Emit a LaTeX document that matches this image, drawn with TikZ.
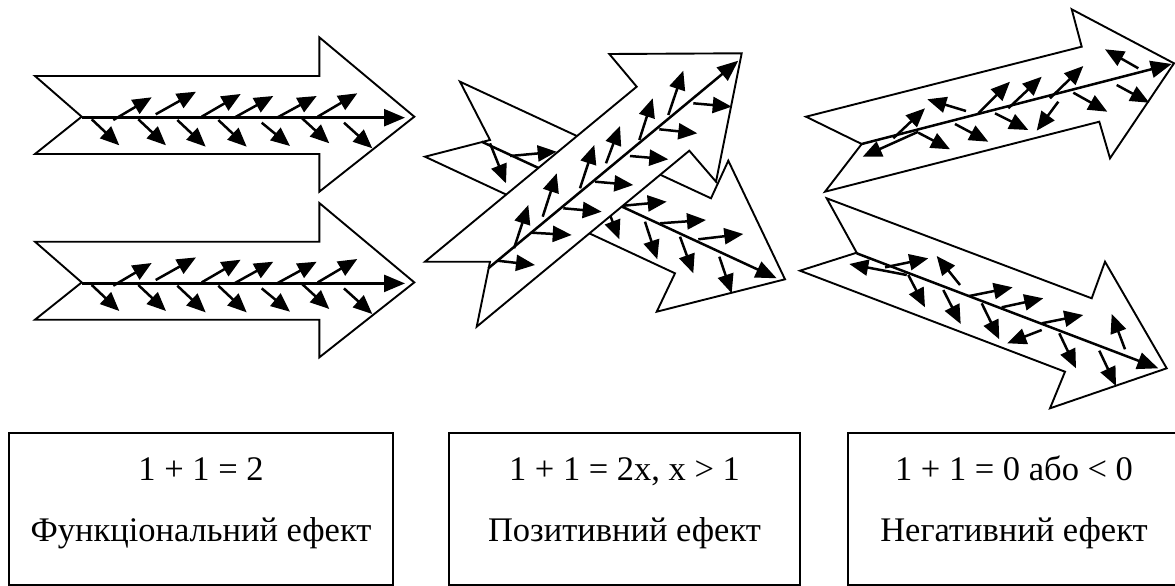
\documentclass[tikz,border=0pt]{standalone}
\usepackage{fontspec}
\setmainfont{Liberation Serif}
\usetikzlibrary{arrows.meta}
\begin{document}
\begin{tikzpicture}[x=1pt,y=-1pt,
  bigarrow/.style={draw=black,fill=white,line width=1.9pt,line join=miter},
  axisarrow/.style={line width=2.5pt,-{Triangle[length=21pt,width=17pt]}},
  small/.style={line width=2.5pt,-{Triangle[length=19pt,width=16pt]}},
  textbox/.style={draw=black,line width=1.6pt,inner sep=0pt,outer sep=0pt},
  lbl/.style={font=\fontsize{34.5}{42}\selectfont,anchor=base,inner sep=0pt}]
\useasboundingbox (0,0) rectangle (1175,586);

% ---------- left: two parallel arrows ----------
\foreach \dy in {0,165.7} {
\begin{scope}[shift={(0,\dy)}]
  \draw[bigarrow] (35,76) -- (81.7,116.7) -- (35,154) -- (319.3,154) -- (319.3,191.7)
     -- (414.3,116.7) -- (319.3,37.3) -- (319.3,76) -- cycle;
  \draw[axisarrow] (81.7,117.7) -- (405,117.7);
  \foreach \a/\b/\c/\d in {113.3/120/151.7/97.3, 155.7/114.3/196/91.7, 201.7/116.7/240.7/94,
      234.3/117.7/273.3/96, 277.7/117.3/316.7/96, 317.7/116.7/357.3/93.3,
      91.7/119.3/119.3/145.3, 138.3/119.3/166/145.3, 177.3/120/205.7/146.7,
      218.3/120/246.7/146.7, 261.7/122.7/290/146, 301/117.3/329.3/143.3, 344/122.7/372.3/148.3}
    \draw[small] (\a,\b) -- (\c,\d);
\end{scope}}

% ---------- middle: arrow B (behind) ----------
\draw[bigarrow] (460,81.7) -- (490,140) -- (425,156.7) -- (675,273.3) -- (656.7,311.7)
   -- (785,279.3) -- (728.3,160.7) -- (711,198.3) -- cycle;
\draw[axisarrow] (481.7,141.7) -- (776.7,278.3);
\foreach \a/\b/\c/\d in {510/156/556.7/151.7, 623.3/205.7/666.7/201.7, 660/223.3/706/220,
    698.3/239.3/743.3/234, 490/143.3/506/183.3, 604.3/200/619.3/239.3, 645/221.7/657.3/259.3,
    680/236.7/693.3/273.3, 719.3/256.7/731.7/293.3}
  \draw[small] (\a,\b) -- (\c,\d);

% ---------- middle: arrow A (front) ----------
\draw[bigarrow] (425,261.7) -- (490,261.7) -- (476.7,326.7) -- (689.3,150.7) -- (716,181.7)
   -- (741.7,53.3) -- (609.3,54) -- (636.7,86.7) -- cycle;
\draw[axisarrow] (488.3,268.3) -- (738.3,60.7);
\foreach \a/\b/\c/\d in {514/248.3/528.3/205, 542.7/216.7/556.7/173.3, 580/188.3/594.3/145,
    606/163.3/620/126, 639.3/140/652.7/98.3, 668.3/115/683.3/70.7,
    497.3/260.7/535/265, 531.7/232.7/571.7/235, 563.3/208.3/601.7/211.7, 595/181.7/633.3/185,
    630/156/668.3/159.3, 659.3/129.3/697.3/133.3, 693.3/103.3/731.7/106.7}
  \draw[small] (\a,\b) -- (\c,\d);

% ---------- right: arrow D (upper) ----------
\draw[bigarrow] (806,116.7) -- (861.7,144) -- (825,191.7) -- (1099.3,121.7) -- (1110,158.3)
   -- (1174,63.3) -- (1071.7,9.3) -- (1081.7,46.7) -- cycle;
\draw[axisarrow] (861.7,144) -- (1171.7,64);
\foreach \a/\b/\c/\d in {918.3/131.7/862.7/156.7, 893.3/138.3/925/108.3, 918.3/132.7/950/149.3,
    966/111/927.3/99.3, 955/124/988.3/141.7, 978.3/113.3/1010/81.7, 1008.3/108.3/1041.7/76.7,
    995/113.3/1028.3/130, 1050/98.3/1083.3/66, 1058.3/101.7/1036.7/130.7,
    1073.3/92.7/1107.3/111.7, 1138.3/68.3/1105/49.3, 1116.7/85/1149.3/102.7}
  \draw[small] (\a,\b) -- (\c,\d);

% ---------- right: arrow E (lower) ----------
\draw[bigarrow] (826.7,198.3) -- (856.7,252.7) -- (800,270.7) -- (1065,371.7) -- (1050,408.3)
   -- (1166.7,368.3) -- (1105,261.7) -- (1091.7,298.3) -- cycle;
\draw[axisarrow] (856.7,253.3) -- (1158.3,368.3);
\foreach \a/\b/\c/\d in {906.7/275/849.3/264, 885/267.3/928.3/258.3, 960/285/936.7/256,
    908.3/275/925/307.3, 943.3/290/960.7/324, 969.3/296/1012.7/287.3, 981.7/303.3/999.3/339.3,
    1001.7/307.3/1043.3/298.3, 1041.7/330/1007.3/343.3, 1041.7/323.3/1083.3/315,
    1059.3/333.3/1076/368.3, 1125/349.3/1111.7/314, 1099.3/350.7/1116/386}
  \draw[small] (\a,\b) -- (\c,\d);

% ---------- text boxes ----------
\node[textbox,minimum width=384pt,minimum height=152pt] (box1) at (201,509) {};
\node[textbox,minimum width=351pt,minimum height=152pt] (box2) at (624.5,509) {};
\node[textbox,minimum width=332pt,minimum height=152pt] (box3) at (1014,509) {};

\node[lbl] (eq1) at (201,480) {1 + 1 = 2};
\node[lbl] (name1) at (201,541) {Функціональний ефект};
\node[lbl] (eq2) at (624.5,480) {1 + 1 = 2x, x > 1};
\node[lbl] (name2) at (624.5,541) {Позитивний ефект};
\node[lbl] (eq3) at (1014,480) {1 + 1 = 0 або < 0};
\node[lbl] (name3) at (1014,541) {Негативний ефект};
\end{tikzpicture}
\end{document}
